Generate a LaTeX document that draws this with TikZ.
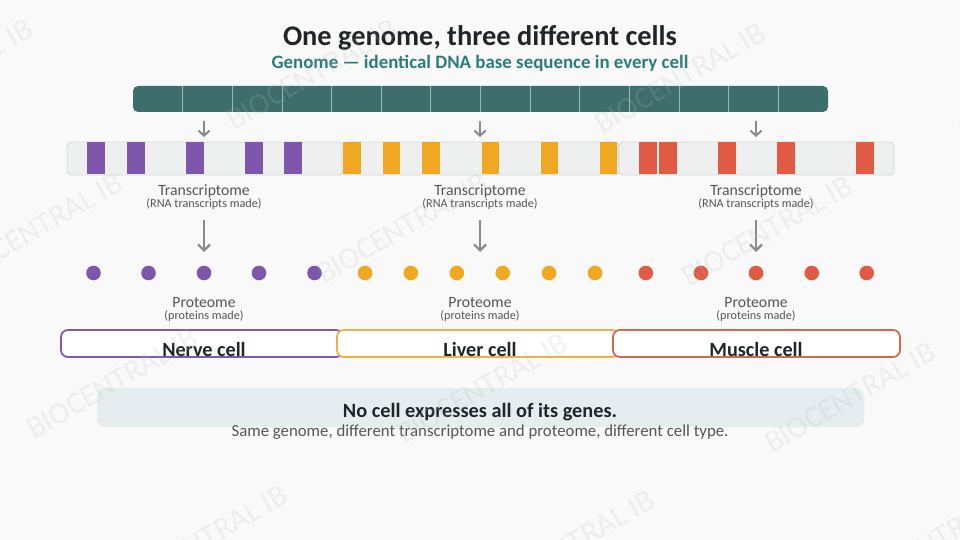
\documentclass[tikz,border=0pt]{standalone}
\usepackage{fontspec}
\setmainfont{Carlito}
\usetikzlibrary{arrows.meta}
\definecolor{bgc}{HTML}{F9F9F9}
\definecolor{titlec}{HTML}{1E2628}
\definecolor{tealtxt}{HTML}{2B7D77}
\definecolor{genomec}{HTML}{3D6E6B}
\definecolor{divc}{HTML}{8DBFBA}
\definecolor{barfill}{HTML}{EEEFEF}
\definecolor{barline}{HTML}{D6D8D8}
\definecolor{purp}{HTML}{7E57AD}
\definecolor{oran}{HTML}{F0A722}
\definecolor{redc}{HTML}{E05A44}
\definecolor{purpline}{HTML}{7E5AA8}
\definecolor{oranline}{HTML}{E9B24A}
\definecolor{redline}{HTML}{D06A55}
\definecolor{graytxt}{HTML}{555555}
\definecolor{arrowc}{HTML}{8A8A8A}
\definecolor{panelc}{HTML}{E5EDF0}
\definecolor{wmc}{HTML}{B8B8B8}
\begin{document}
\begin{tikzpicture}[x=1pt,y=-1pt,
  bartrack/.style={fill=barfill,draw=barline,line width=0.9pt,rounded corners=4pt},
  divider/.style={draw=divc,line width=0.8pt},
  cellbox/.style={fill=white,line width=1.8pt,rounded corners=7pt},
  tlabel/.style={text=graytxt,font=\fontsize{15.7}{17}\selectfont,anchor=base},
  tsub/.style={text=graytxt,font=\fontsize{12.2}{14}\selectfont,anchor=base},
  celllabel/.style={text=titlec,font=\bfseries\fontsize{20.2}{22}\selectfont,anchor=base},
  shortarrow/.style={draw=arrowc,line width=2pt,-{Straight Barb[length=5pt,width=11pt,line width=2pt]}},
  longarrow/.style={draw=arrowc,line width=2.4pt,-{Straight Barb[length=6pt,width=12pt,line width=2.2pt]}},
  wm/.style={text=wmc,opacity=0.18,font=\fontsize{31}{33}\selectfont,rotate=30}
]
\useasboundingbox (0,0) rectangle (960,540);
\fill[bgc] (0,0) rectangle (960,540);

% title
\node[anchor=base,text=titlec,font=\bfseries\fontsize{28.4}{32}\selectfont] (title) at (480,46) {One genome, three different cells};
\node[anchor=base,text=tealtxt,font=\bfseries\fontsize{18.9}{21}\selectfont] (subtitle) at (480,68.5) {Genome — identical DNA base sequence in every cell};

% genome bar
\node[fill=genomec,rounded corners=5pt,minimum width=695pt,minimum height=26pt,inner sep=0pt] (genome) at (480.5,99) {};
\foreach \k in {1,...,13} \draw[divider] ({133+\k*49.64},86) -- ({133+\k*49.64},112);

% short arrows
\foreach \i/\xx in {1/204,2/480,3/756}{
  \coordinate (sa\i) at (\xx,121);
  \coordinate (sb\i) at (\xx,137);
  \draw[shortarrow] (sa\i) -- (sb\i);
}

% transcript bars
\draw[bartrack] (67,142) rectangle (343,175);
\draw[bartrack] (342,142) rectangle (619,175);
\draw[bartrack] (619,142) rectangle (894,175);
\foreach \a in {87,127,186,245,284} \fill[purp] (\a,142.5) rectangle (\a+17.5,174.5);
\foreach \a in {343,382.5,422,481.5,540.5,599.5} \fill[oran] (\a,142.5) rectangle (\a+17.5,174.5);
\foreach \a in {639,659,718,777,856} \fill[redc] (\a,142.5) rectangle (\a+17.5,174.5);

% labels
\foreach \i/\xx in {1/204,2/480,3/756}{
  \node[tlabel] (tr\i) at (\xx,195.5) {Transcriptome};
  \node[tsub] (trs\i) at (\xx,207.5) {(RNA transcripts made)};
  \coordinate (la\i) at (\xx,220);
  \coordinate (lb\i) at (\xx,252);
  \draw[longarrow] (la\i) -- (lb\i);
  \node[tlabel] (pr\i) at (\xx,307.5) {Proteome};
  \node[tsub] (prs\i) at (\xx,319.5) {(proteins made)};
}

% dots
\foreach \a in {93.5,148.5,204,259,314.5} \fill[purp] (\a,273) circle (7.3);
\foreach \a in {365,410.8,456.8,502.7,549,595} \fill[oran] (\a,273) circle (7.3);
\foreach \a in {645.8,701,756,811.7,866.7} \fill[redc] (\a,273) circle (7.3);

% cell boxes
\draw[cellbox,draw=purpline] (61,330) rectangle (343,357);
\draw[cellbox,draw=oranline] (337,330) rectangle (619,357);
\draw[cellbox,draw=redline] (613,330) rectangle (900,357);
\node[celllabel] (nerve) at (204,356) {Nerve cell};
\node[celllabel] (liver) at (480,356) {Liver cell};
\node[celllabel] (muscle) at (756,356) {Muscle cell};

% bottom panel
\fill[panelc,rounded corners=8pt] (97,388) rectangle (864,427);
\node[anchor=base,text=titlec,font=\bfseries\fontsize{20.3}{22}\selectfont] (note) at (480,417) {No cell expresses all of its genes.};
\node[anchor=base,text=graytxt,font=\fontsize{16.8}{19}\selectfont] (notesub) at (480,436) {Same genome, different transcriptome and proteome, different cell type.};

% watermark
\foreach \cx/\cy in {-53/74,312/74,680/78,1045/85,37/228,402/228,767/231,112/383,482/388,850/397,202/540,569/545,935/540}
  \node[wm] at (\cx,\cy) {BIOCENTRAL IB};
\end{tikzpicture}
\end{document}
